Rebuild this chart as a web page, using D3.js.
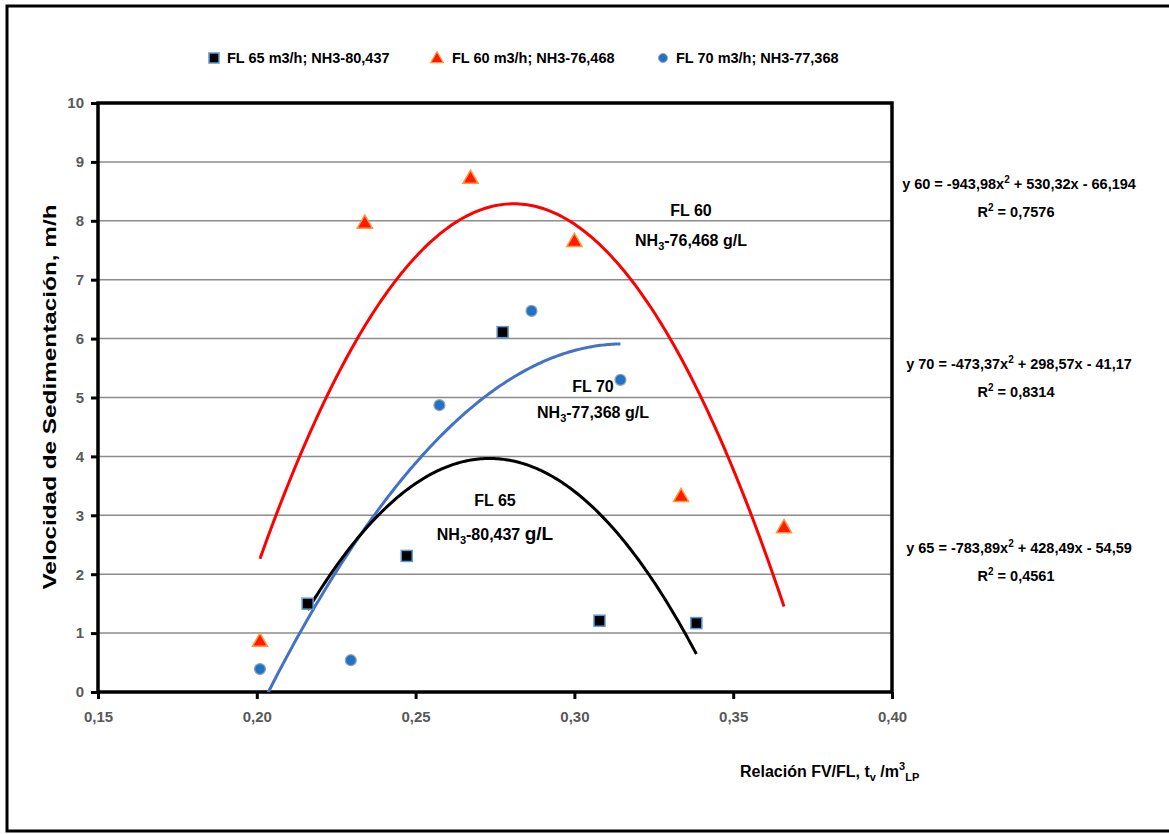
<!DOCTYPE html>
<html>
<head>
<meta charset="utf-8">
<script src="https://cdn.jsdelivr.net/npm/d3@7"></script>
<style>
  html, body { margin: 0; padding: 0; background: #fff; }
  svg { display: block; }
  .narrow { font-family: "Liberation Sans Narrow", "Arial Narrow", "Liberation Sans", sans-serif; font-weight: bold; }
  .arial { font-family: "Liberation Sans", Arial, sans-serif; font-weight: bold; }
</style>
</head>
<body>
<svg id="chart" width="1169" height="834"></svg>
<script>
// Measured points: ratio FV/FL vs settling velocity (m/h)
const fl65X = [0.2160, 0.2472, 0.2774, 0.3079, 0.3384];
const fl65Y = [1.50, 2.31, 6.11, 1.21, 1.17];
const fl60X = [0.2010, 0.2340, 0.2673, 0.3000, 0.3336, 0.3660];
const fl60Y = [0.85, 7.95, 8.71, 7.64, 3.31, 2.78];
const fl70X = [0.2010, 0.2296, 0.2575, 0.2865, 0.3145];
const fl70Y = [0.39, 0.54, 4.87, 6.47, 5.30];

// Quadratic trendline coefficients [a, b, c] for y = a x^2 + b x + c
const fit60 = [-943.98, 530.32, -66.194];
const fit70 = [-473.37, 298.57, -41.17];
const fit65 = [-783.89, 428.49, -54.59];
const r2Values = ["0,7576", "0,8314", "0,4561"];

const xTicks = [0.15, 0.20, 0.25, 0.30, 0.35, 0.40];
const yTicks = [0, 1, 2, 3, 4, 5, 6, 7, 8, 9, 10];

const svg = d3.select("#chart");
const pL = 98, pR = 892, pT = 103, pB = 692;

const x = d3.scaleLinear().domain([0.15, 0.40]).range([pL, pR]);
const y = d3.scaleLinear().domain([0, 10]).range([pB, pT]);
const fmt = v => d3.format(".2f")(v).replace(".", ",");

// outer frame
svg.append("rect").attr("x", 7).attr("y", 6).attr("width", 1170).attr("height", 825)
  .attr("fill", "none").attr("stroke", "#000").attr("stroke-width", 3);

// gridlines
svg.append("g").selectAll("line").data(yTicks.filter(d => d > 0 && d < 10)).join("line")
  .attr("x1", pL).attr("x2", pR).attr("y1", d => y(d)).attr("y2", d => y(d))
  .attr("stroke", "#8c8c8c").attr("stroke-width", 1.5);

// clip for trendlines
svg.append("clipPath").attr("id", "plotclip").append("rect")
  .attr("x", pL).attr("y", pT).attr("width", pR - pL).attr("height", pB - pT);

// y axis
const yAxis = svg.append("g").attr("transform", `translate(${pL},0)`)
  .call(d3.axisLeft(y).tickValues(yTicks).tickSize(7).tickPadding(7).tickFormat(d3.format("d")));
yAxis.select(".domain").remove();
yAxis.selectAll("line").attr("stroke", "#000").attr("stroke-width", 3);
yAxis.selectAll("text").attr("class", "arial").attr("font-size", 15).attr("fill", "#595959");

// x axis
const xAxis = svg.append("g").attr("transform", `translate(0,${pB})`)
  .call(d3.axisBottom(x).tickValues(xTicks).tickSize(7).tickPadding(12).tickFormat(fmt));
xAxis.select(".domain").remove();
xAxis.selectAll("line").attr("stroke", "#000").attr("stroke-width", 3);
xAxis.selectAll("text").attr("class", "narrow").attr("font-size", 15).attr("fill", "#595959");

// plot box
svg.append("rect").attr("x", pL).attr("y", pT).attr("width", pR - pL).attr("height", pB - pT)
  .attr("fill", "none").attr("stroke", "#000").attr("stroke-width", 3.5);

// trendlines
function curve(coef, x0, x1) {
  const pts = d3.range(0, 201).map(i => {
    const xv = x0 + (x1 - x0) * i / 200;
    return [xv, coef[0] * xv * xv + coef[1] * xv + coef[2]];
  });
  return d3.line().x(d => x(d[0])).y(d => y(d[1]))(pts);
}
const g = svg.append("g").attr("clip-path", "url(#plotclip)");
g.append("path").attr("d", curve(fit60, d3.min(fl60X), d3.max(fl60X)))
  .attr("fill", "none").attr("stroke", "#ff0000").attr("stroke-width", 3);
g.append("path").attr("d", curve(fit70, d3.min(fl70X), d3.max(fl70X)))
  .attr("fill", "none").attr("stroke", "#4472c4").attr("stroke-width", 3);
g.append("path").attr("d", curve(fit65, d3.min(fl65X), d3.max(fl65X)))
  .attr("fill", "none").attr("stroke", "#000").attr("stroke-width", 3);

// markers
const tri = d3.symbol().type(d3.symbolTriangle).size(100);
svg.append("g").selectAll("path").data(d3.zip(fl60X, fl60Y)).join("path")
  .attr("d", tri).attr("transform", d => `translate(${x(d[0])},${y(d[1])})`)
  .attr("fill", "#ff1a00").attr("stroke", "#ff9a3c").attr("stroke-width", 1.5);
svg.append("g").selectAll("circle").data(d3.zip(fl70X, fl70Y)).join("circle")
  .attr("cx", d => x(d[0])).attr("cy", d => y(d[1])).attr("r", 5.5)
  .attr("fill", "#1f73c6").attr("stroke", "#9aa3ad").attr("stroke-width", 1.2);
svg.append("g").selectAll("rect").data(d3.zip(fl65X, fl65Y)).join("rect")
  .attr("x", d => x(d[0]) - 5.5).attr("y", d => y(d[1]) - 5.5).attr("width", 11).attr("height", 11)
  .attr("fill", "#000").attr("stroke", "#5b9bd5").attr("stroke-width", 1.5);

// legend
const lg = svg.append("g");
lg.append("rect").attr("x", 209).attr("y", 53).attr("width", 10).attr("height", 10)
  .attr("fill", "#000").attr("stroke", "#5b9bd5").attr("stroke-width", 1.5);
lg.append("text").attr("class", "narrow").attr("x", 227).attr("y", 63).attr("font-size", 14.5).text("FL 65 m3/h; NH3-80,437");
lg.append("path").attr("d", d3.symbol().type(d3.symbolTriangle).size(70))
  .attr("transform", "translate(437,59)").attr("fill", "#ff1a00").attr("stroke", "#ff9a3c").attr("stroke-width", 1.2);
lg.append("text").attr("class", "narrow").attr("x", 452).attr("y", 63).attr("font-size", 14.5).text("FL 60 m3/h; NH3-76,468");
lg.append("circle").attr("cx", 663).attr("cy", 58).attr("r", 4.5)
  .attr("fill", "#1f73c6").attr("stroke", "#9aa3ad").attr("stroke-width", 1);
lg.append("text").attr("class", "narrow").attr("x", 676).attr("y", 63).attr("font-size", 14.5).text("FL 70 m3/h; NH3-77,368");

// axis titles
svg.append("text").attr("class", "arial").attr("font-size", 17.5)
  .attr("transform", "translate(56,397) rotate(-90)").attr("text-anchor", "middle")
  .attr("textLength", 385).attr("lengthAdjust", "spacingAndGlyphs")
  .text("Velocidad de Sedimentación,  m/h");
const xt = svg.append("text").attr("class", "narrow").attr("font-size", 16).attr("x", 740).attr("y", 777);
xt.append("tspan").text("Relación FV/FL, t");
xt.append("tspan").attr("font-size", 11).attr("dy", 4).text("v");
xt.append("tspan").attr("dy", -4).text(" /m");
xt.append("tspan").attr("font-size", 11).attr("dy", -7).text("3");
xt.append("tspan").attr("font-size", 11).attr("dy", 11).text("LP");

// curve labels
function curveLabel(cx, y1, y2, name, nh3, gl) {
  svg.append("text").attr("class", "narrow").attr("font-size", 16).attr("text-anchor", "middle")
    .attr("x", cx).attr("y", y1).text(name);
  const t = svg.append("text").attr("class", "narrow").attr("font-size", 16).attr("text-anchor", "middle")
    .attr("x", cx).attr("y", y2);
  t.append("tspan").text("NH");
  t.append("tspan").attr("font-size", 11).attr("dy", 4).text("3");
  t.append("tspan").attr("dy", -4).text(nh3 + " ");
  t.append("tspan").attr("font-size", gl).text("g/L");
}
curveLabel(691, 216, 246, "FL 60", "-76,468", 16);
curveLabel(593, 392, 418, "FL 70", "-77,368", 16);
curveLabel(495, 506, 540, "FL 65", "-80,437", 19);

// trendline equations
function eqn(cy, name, coef, r2) {
  const num = v => String(v).replace(".", ",");
  const t = svg.append("text").attr("class", "narrow").attr("font-size", 14.5).attr("text-anchor", "middle")
    .attr("x", 1019).attr("y", cy);
  t.append("tspan").text(`${name} = ${num(coef[0])}x`);
  t.append("tspan").attr("font-size", 10).attr("dy", -6).text("2");
  t.append("tspan").attr("dy", 6).text(` + ${num(coef[1])}x - ${num(-coef[2])}`);
  const r = svg.append("text").attr("class", "narrow").attr("font-size", 14.5).attr("text-anchor", "middle")
    .attr("x", 1016).attr("y", cy + 28);
  r.append("tspan").text("R");
  r.append("tspan").attr("font-size", 10).attr("dy", -6).text("2");
  r.append("tspan").attr("dy", 6).text(` = ${r2}`);
}
eqn(189, "y 60", fit60, r2Values[0]);
eqn(369, "y 70", fit70, r2Values[1]);
eqn(553, "y 65", fit65, r2Values[2]);
</script>
</body>
</html>
